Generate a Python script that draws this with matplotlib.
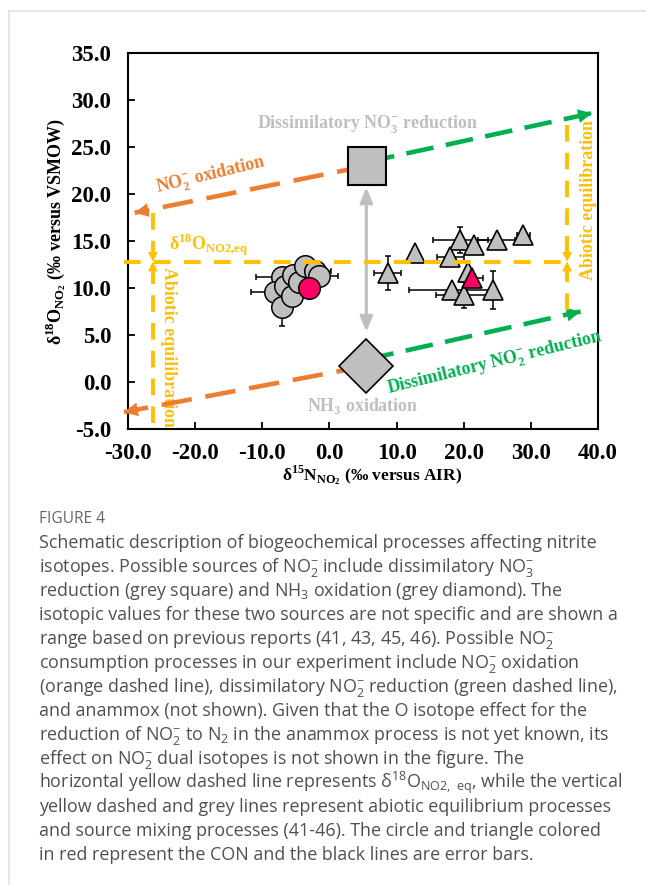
import matplotlib
matplotlib.use('Agg')
import matplotlib.pyplot as plt
from matplotlib.lines import Line2D
import numpy as np

plt.rcParams['mathtext.fontset'] = 'custom'
plt.rcParams['mathtext.bf'] = 'Liberation Serif:bold'
plt.rcParams['mathtext.rm'] = 'Liberation Serif:bold'
plt.rcParams['mathtext.sf'] = 'Open Sans'
plt.rcParams['axes.unicode_minus'] = False
plt.rcParams['lines.scale_dashes'] = False

# ---------------- data ----------------
circle_x = [-7.1, -8.1, -7.0, -6.6, -5.6, -5.4, -4.6, -3.6, -2.1, -1.6]
circle_y = [11.2, 9.6, 8.0, 10.2, 9.1, 11.4, 10.6, 12.3, 11.8, 11.3]
circle_xerr = [3.9, 3.65, 0.0, 0.0, 0.0, 0.0, 0.0, 0.0, 2.4, 2.9]
circle_yerr = [0.0, 0.0, 2.0, 0.0, 0.0, 0.0, 0.0, 0.0, 0.0, 0.0]
con_circle = (-3.1, 10.0)

tri_x = [12.8, 8.65, 19.5, 21.6, 18.0, 24.9, 28.9, 20.7, 18.2, 20.0, 24.4]
tri_y = [13.7, 11.6, 15.1, 14.6, 13.3, 15.1, 15.6, 11.7, 9.8, 9.25, 9.8]
tri_xerr = [0.0, 2.0, 4.1, 0.0, 2.0, 2.8, 1.0, 0.0, 6.4, 4.2, 0.0]
tri_yerr = [0.0, 1.8, 1.35, 0.0, 0.0, 0.0, 0.0, 0.0, 0.0, 1.35, 2.0]
con_tri = (21.3, 11.1, 1.5)

square_src = (5.6, 23.0)     # dissimilatory NO3- reduction
diamond_src = (5.5, 1.7)     # NH3 oxidation
mixing_arrow = ([5.5, 5.5], [20.7, 5.35])

orange_upper = ([5.6, -29.0], [23.0, 18.0])
orange_lower = ([5.5, -30.6], [1.7, -3.2])
green_upper = ([5.6, 39.1], [23.4, 28.6])
green_lower = ([5.5, 37.4], [2.4, 7.5])
eq_line = ([-30.6, 36.3], [12.8, 12.8])
abiotic_left = [([-26.3, -26.3], [18.0, 12.8]), ([-26.3, -26.3], [-4.4, 12.8])]
abiotic_right = [([35.4, 35.4], [27.3, 12.8]), ([35.4, 35.4], [7.66, 12.8])]

xticks = [-30, -20, -10, 0, 10, 20, 30, 40]
xticklabels = ['-30.0', '-20.0', '-10.0', '0.0', '10.0', '20.0', '30.0', '40.0']
yticks = [-5, 0, 5, 10, 15, 20, 25, 30, 35]
yticklabels = ['-5.0', '0.0', '5.0', '10.0', '15.0', '20.0', '25.0', '30.0', '35.0']

caption_title = 'FIGURE 4'
caption_lines = [
    'Schematic description of biogeochemical processes affecting nitrite',
    r'isotopes. Possible sources of NO$_{\mathsf{2}}^{\mathsf{-}}$ include dissimilatory NO$_{\mathsf{3}}^{\mathsf{-}}$',
    r'reduction (grey square) and NH$_{\mathsf{3}}$ oxidation (grey diamond). The',
    'isotopic values for these two sources are not specific and are shown a',
    r'range based on previous reports (41, 43, 45, 46). Possible NO$_{\mathsf{2}}^{\mathsf{-}}$',
    r'consumption processes in our experiment include NO$_{\mathsf{2}}^{\mathsf{-}}$ oxidation',
    r'(orange dashed line), dissimilatory NO$_{\mathsf{2}}^{\mathsf{-}}$ reduction (green dashed line),',
    'and anammox (not shown). Given that the O isotope effect for the',
    r'reduction of NO$_{\mathsf{2}}^{\mathsf{-}}$ to N$_{\mathsf{2}}$ in the anammox process is not yet known, its',
    r'effect on NO$_{\mathsf{2}}^{\mathsf{-}}$ dual isotopes is not shown in the figure. The',
    r'horizontal yellow dashed line represents δ$^{\mathsf{18}}$O$_{\mathsf{NO2,\ eq}}$, while the vertical',
    'yellow dashed and grey lines represent abiotic equilibrium processes',
    'and source mixing processes (41-46). The circle and triangle colored',
    'in red represent the CON and the black lines are error bars.',
]

# ---------------- styles ----------------
ORANGE = '#ED7D31'
GREEN = '#00B050'
YELLOW = '#FFC000'
GREY = '#BFBFBF'
RED = '#FF0066'
SERIF = ['Liberation Serif', 'DejaVu Serif']

W, H = 646, 885
fig = plt.figure(figsize=(W / 100, H / 100), dpi=100)
ax = fig.add_axes([128 / W, 1 - 429 / H, 470 / W, 376 / H])
ax.set_xlim(-30, 40)
ax.set_ylim(-5, 35)

# light border of the page panel
fig.add_artist(Line2D([9 / W, 9 / W], [0, 1 - 11 / H], color='#E2E2E2', lw=1.2))
fig.add_artist(Line2D([9 / W, 1], [1 - 11 / H, 1 - 11 / H], color='#E2E2E2', lw=1.2))


def dashed_arrow(xs, ys, color, lw, dashes, hl, hw, z=3):
    ax.plot(xs, ys, color=color, lw=lw, dashes=dashes, solid_capstyle='butt',
            dash_capstyle='butt', zorder=z, clip_on=False)
    ax.annotate('', xy=(xs[1], ys[1]), xytext=(xs[0], ys[0]),
                arrowprops=dict(arrowstyle=f'-|>,head_length={hl},head_width={hw}',
                                color=color, lw=0, mutation_scale=1,
                                shrinkA=0, shrinkB=0),
                zorder=z, annotation_clip=False)


# process lines
dashed_arrow(*orange_upper, ORANGE, 3.3, (22, 10), 10, 5, z=3)
dashed_arrow(*orange_lower, ORANGE, 3.3, (22, 10), 10, 5, z=3)
dashed_arrow(*green_upper, GREEN, 3.3, (20, 9), 10, 5, z=3)
dashed_arrow(*green_lower, GREEN, 3.3, (20, 9), 10, 5, z=3)
for xs, ys in abiotic_left + abiotic_right:
    dashed_arrow(xs, ys, YELLOW, 2.8, (12, 8), 7, 3.6, z=6)
ax.plot(*eq_line, color=YELLOW, lw=2.8, dashes=(12, 9.6), dash_capstyle='butt',
        zorder=6, clip_on=False)

# source mixing arrow
ax.annotate('', xy=(mixing_arrow[0][1], mixing_arrow[1][1]),
            xytext=(mixing_arrow[0][0], mixing_arrow[1][0]),
            arrowprops=dict(arrowstyle='<|-|>,head_length=9,head_width=3.8',
                            color=GREY, lw=2.2, mutation_scale=1, shrinkA=0, shrinkB=0),
            zorder=2)

# sources
ax.plot(*square_src, marker='s', ms=27, mfc=GREY, mec='black', mew=1.5, zorder=4)
ax.plot(*diamond_src, marker='D', ms=27.5, mfc=GREY, mec='black', mew=1.2, zorder=4)

# samples
eb_kw = dict(fmt='none', ecolor='black', elinewidth=1.1, capsize=2.5, capthick=1.1, zorder=4.5)
ax.errorbar(circle_x, circle_y, xerr=circle_xerr, yerr=circle_yerr, **eb_kw)
ax.errorbar(tri_x, tri_y, xerr=tri_xerr, yerr=tri_yerr, **eb_kw)
ax.errorbar([con_tri[0]], [con_tri[1]], xerr=[con_tri[2]], **eb_kw)
for x, y in zip(circle_x, circle_y):
    ax.plot(x, y, marker='o', ms=15.5, mfc=GREY, mec='black', mew=1.1, zorder=5)
ax.plot(*con_circle, marker='o', ms=15.5, mfc=RED, mec='black', mew=1.1, zorder=5.2)
for x, y in zip(tri_x, tri_y):
    ax.plot(x, y, marker='^', ms=14.5, mfc=GREY, mec='black', mew=1.2, zorder=5)
ax.plot(con_tri[0], con_tri[1], marker='^', ms=14.5, mfc=RED, mec='black', mew=1.2, zorder=5.2)

# annotations
tkw = dict(family=SERIF, weight='bold', fontsize=12.9)
ax.text(5.6, 27.4, r'Dissimilatory NO$_{\mathbf{3}}^{\mathbf{-}}$ reduction', color=GREY,
        ha='center', va='center', **tkw)
ax.text(-17.7, 22.0, r'NO$_{\mathbf{2}}^{\mathbf{-}}$ oxidation', color=ORANGE,
        ha='center', va='center', rotation=13.6, rotation_mode='anchor', **tkw)
ax.text(-18.0, 14.6, r'δ$^{\mathbf{18}}$O$_{\mathbf{NO2{,}eq}}$', color=YELLOW,
        ha='center', va='center', **tkw)
ax.text(-23.9, 3.75, 'Abiotic equilibration', color=YELLOW, ha='center', va='center',
        rotation=-90, zorder=2, **tkw)
ax.text(38.6, 19.4, 'Abiotic equilibration', color=YELLOW, ha='center', va='center',
        rotation=90, zorder=2, **tkw)
ax.text(24.6, 2.0, r'Dissimilatory NO$_{\mathbf{2}}^{\mathbf{-}}$ reduction', color=GREEN,
        ha='center', va='center', rotation=13.8, rotation_mode='anchor', **tkw)
ax.text(5.0, -2.6, r'NH$_{\mathbf{3}}$ oxidation', color=GREY, ha='center', va='center', **tkw)

# axes styling
for s in ax.spines.values():
    s.set_linewidth(1.5)
ax.set_xticks(xticks)
ax.set_xticklabels(xticklabels)
ax.set_yticks(yticks)
ax.set_yticklabels(yticklabels)
ax.tick_params(direction='in', length=5, width=1.3)
ax.tick_params(axis='x', pad=10)
ax.tick_params(axis='y', pad=12)
for lab in ax.get_xticklabels() + ax.get_yticklabels():
    lab.set_family(SERIF)
    lab.set_weight('bold')
    lab.set_fontsize(16.5)

lkw = dict(family=SERIF, weight='bold')
fig.text(372 / W, 1 - 475 / H, r'δ$^{\mathbf{15}}$N$_{\mathbf{NO_2}}$ (‰ versus AIR)',
         ha='center', va='center', fontsize=12.5, **lkw)
fig.text(55.6 / W, 1 - 231.5 / H, r'δ$^{\mathbf{18}}$O$_{\mathbf{NO_2}}$ (‰ versus VSMOW)',
         ha='center', va='center', rotation=90, fontsize=13, **lkw)

# caption
cap_family = ['Open Sans', 'DejaVu Sans']
fig.text(39 / W, 1 - 523 / H, caption_title, ha='left', va='baseline',
         family=cap_family, fontsize=11.2, color='#666666')
for i, line in enumerate(caption_lines):
    fig.text(39 / W, 1 - (548 + 24 * i) / H, line, ha='left', va='baseline',
             family=cap_family, fontsize=12.9, color='#505050')

fig.savefig('out.png', dpi=100)
